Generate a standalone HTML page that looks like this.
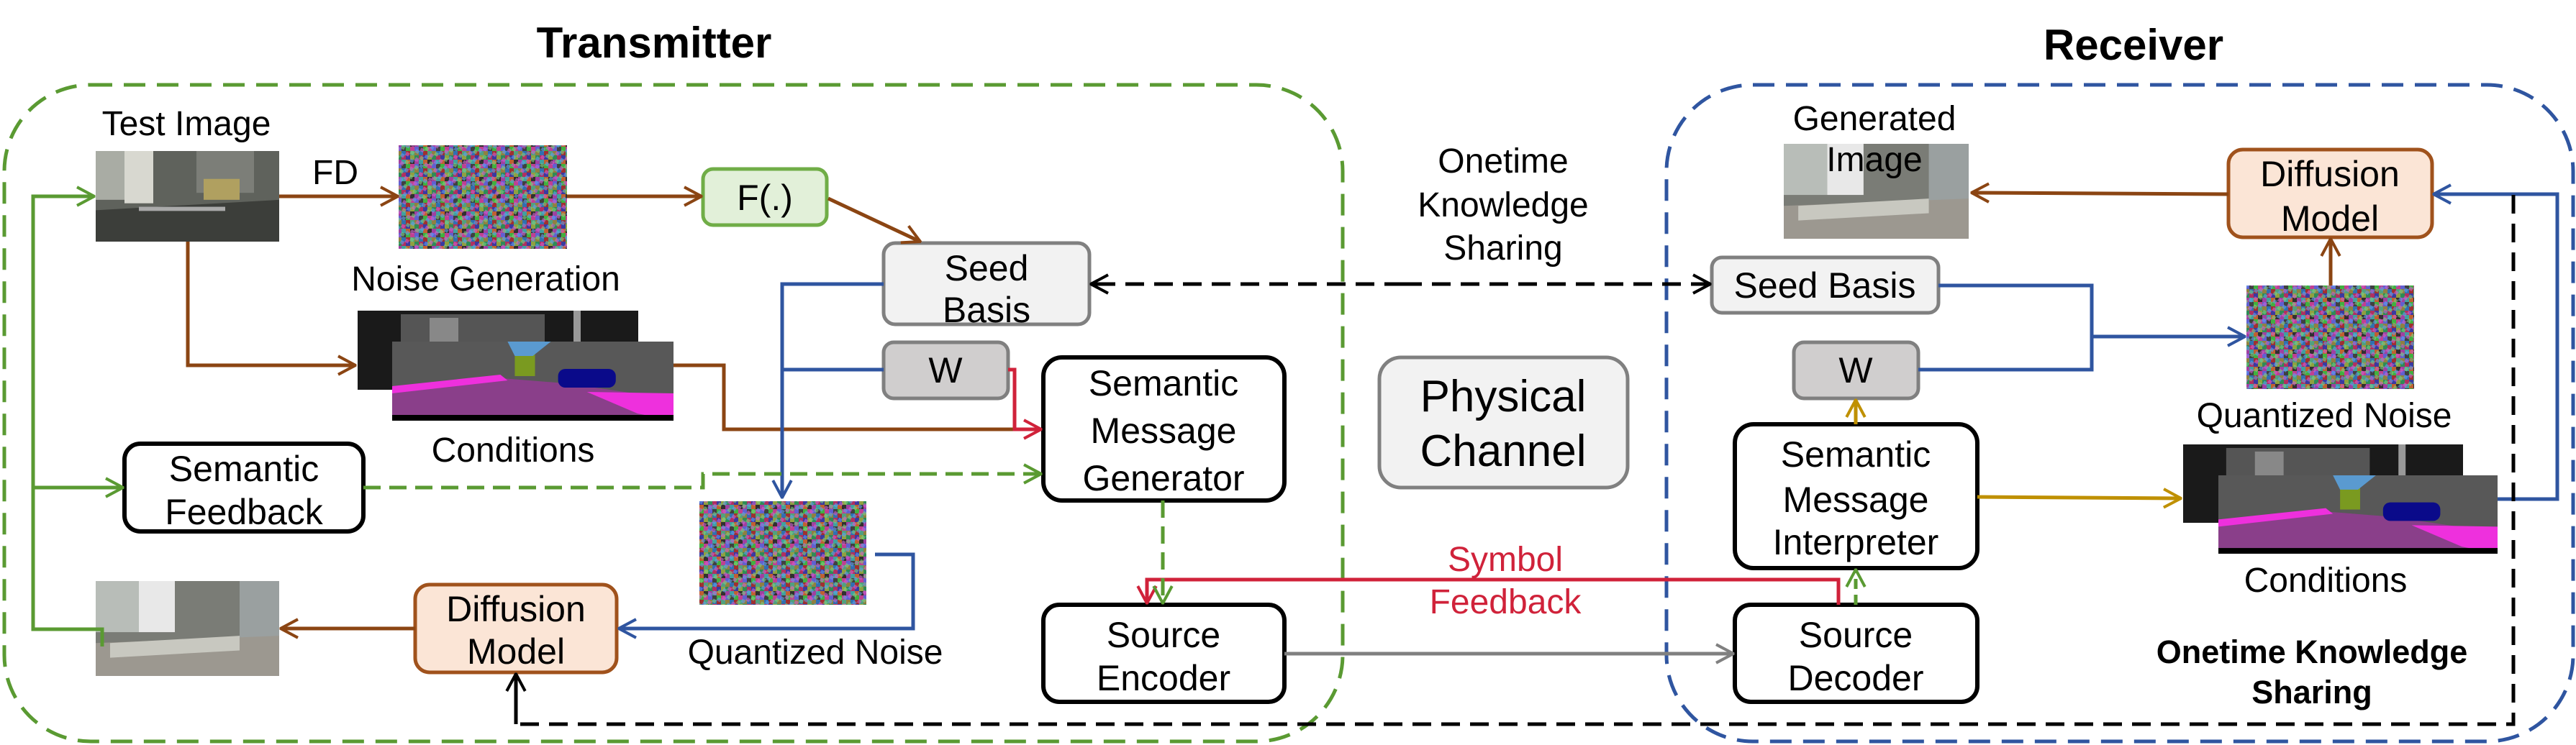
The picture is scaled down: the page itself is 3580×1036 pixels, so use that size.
<!DOCTYPE html>
<html><head><meta charset="utf-8"><style>
html,body{margin:0;padding:0;background:#fff;}
svg{display:block;}
text{font-family:"Liberation Sans",Arial,sans-serif;}
</style></head><body>
<svg width="3580" height="1036" viewBox="0 0 3580 1036" xmlns="http://www.w3.org/2000/svg">
<defs>
<marker id="aBr" viewBox="0 0 20 20" refX="19" refY="10" markerWidth="32" markerHeight="32" markerUnits="userSpaceOnUse" orient="auto"><path d="M4,2 L19,10 L4,18" fill="none" stroke="#8b4513" stroke-width="2.5"/></marker>
<marker id="aGr" viewBox="0 0 20 20" refX="19" refY="10" markerWidth="32" markerHeight="32" markerUnits="userSpaceOnUse" orient="auto"><path d="M4,2 L19,10 L4,18" fill="none" stroke="#5a9a32" stroke-width="2.5"/></marker>
<marker id="aBl" viewBox="0 0 20 20" refX="19" refY="10" markerWidth="32" markerHeight="32" markerUnits="userSpaceOnUse" orient="auto"><path d="M4,2 L19,10 L4,18" fill="none" stroke="#2f55a0" stroke-width="2.5"/></marker>
<marker id="aRd" viewBox="0 0 20 20" refX="19" refY="10" markerWidth="32" markerHeight="32" markerUnits="userSpaceOnUse" orient="auto"><path d="M4,2 L19,10 L4,18" fill="none" stroke="#d0223a" stroke-width="2.5"/></marker>
<marker id="aGo" viewBox="0 0 20 20" refX="19" refY="10" markerWidth="32" markerHeight="32" markerUnits="userSpaceOnUse" orient="auto"><path d="M4,2 L19,10 L4,18" fill="none" stroke="#bf9000" stroke-width="2.5"/></marker>
<marker id="aGy" viewBox="0 0 20 20" refX="19" refY="10" markerWidth="32" markerHeight="32" markerUnits="userSpaceOnUse" orient="auto"><path d="M4,2 L19,10 L4,18" fill="none" stroke="#808080" stroke-width="2.5"/></marker>
<marker id="aBk" viewBox="0 0 20 20" refX="19" refY="10" markerWidth="32" markerHeight="32" markerUnits="userSpaceOnUse" orient="auto"><path d="M4,2 L19,10 L4,18" fill="none" stroke="#000" stroke-width="2.5"/></marker>
<pattern id="noise" width="24" height="24" patternUnits="userSpaceOnUse">
<rect width="24" height="24" fill="#5a4a6a"/>
<rect x="0" y="0" width="6" height="6" fill="#2e8b57"/><rect x="6" y="0" width="6" height="6" fill="#b03060"/><rect x="12" y="0" width="6" height="6" fill="#3a3aa0"/><rect x="18" y="0" width="6" height="6" fill="#90a040"/>
<rect x="0" y="6" width="6" height="6" fill="#a040a0"/><rect x="6" y="6" width="6" height="6" fill="#40a0a0"/><rect x="12" y="6" width="6" height="6" fill="#c06030"/><rect x="18" y="6" width="6" height="6" fill="#303030"/>
<rect x="0" y="12" width="6" height="6" fill="#6060d0"/><rect x="6" y="12" width="6" height="6" fill="#404040"/><rect x="12" y="12" width="6" height="6" fill="#40b040"/><rect x="18" y="12" width="6" height="6" fill="#c04090"/>
<rect x="0" y="18" width="6" height="6" fill="#908040"/><rect x="6" y="18" width="6" height="6" fill="#3070b0"/><rect x="12" y="18" width="6" height="6" fill="#a03030"/><rect x="18" y="18" width="6" height="6" fill="#50a080"/>
</pattern>
<pattern id="noise2" width="15" height="15" patternUnits="userSpaceOnUse" patternTransform="rotate(30)">
<rect x="0" y="0" width="5" height="5" fill="#80d080"/><rect x="10" y="5" width="5" height="5" fill="#d060d0"/><rect x="5" y="10" width="5" height="5" fill="#60a0f0"/>
</pattern>
<symbol id="street" viewBox="0 0 255 130" preserveAspectRatio="none">
<rect width="255" height="130" fill="#5f625c"/>
<rect x="0" y="0" width="60" height="70" fill="#a9aca4"/>
<rect x="40" y="0" width="40" height="75" fill="#d8d8d0"/>
<rect x="140" y="0" width="80" height="60" fill="#7c7e78"/>
<rect x="150" y="40" width="50" height="30" fill="#b0a060"/>
<polygon points="0,85 255,70 255,130 0,130" fill="#3c3e3a"/>
<rect x="60" y="80" width="120" height="6" fill="#aaa"/>
</symbol>
<symbol id="gen" viewBox="0 0 255 130" preserveAspectRatio="none">
<rect width="255" height="130" fill="#7a7c76"/>
<rect x="0" y="0" width="60" height="70" fill="#b8bdb8"/>
<rect x="60" y="0" width="50" height="70" fill="#e8e8e8"/>
<rect x="200" y="0" width="55" height="90" fill="#9aa0a0"/>
<polygon points="0,85 255,75 255,130 0,130" fill="#9c9890"/>
<polygon points="20,85 200,75 200,95 20,105" fill="#c8c8c0"/>
</symbol>
<symbol id="cback" viewBox="0 0 390 110" preserveAspectRatio="none">
<rect width="390" height="110" fill="#1a1a1a"/>
<rect x="60" y="5" width="200" height="50" fill="#555"/>
<rect x="100" y="10" width="40" height="40" fill="#888"/>
<rect x="300" y="0" width="10" height="80" fill="#999"/>
</symbol>
<symbol id="cfront" viewBox="0 0 390 110" preserveAspectRatio="none">
<rect width="390" height="110" fill="#585858"/>
<polygon points="0,62 140,50 240,58 390,80 390,110 0,110" fill="#8a3f8a"/>
<polygon points="0,62 150,46 160,54 0,72" fill="#ee30dd"/>
<polygon points="270,70 390,72 390,110 340,100" fill="#ee30dd"/>
<rect x="230" y="38" width="80" height="26" rx="10" fill="#0a0a8a"/>
<rect x="170" y="8" width="28" height="40" fill="#7a9a20"/>
<polygon points="160,0 220,0 195,20 170,20" fill="#5a9ad0"/>
<rect x="0" y="102" width="390" height="8" fill="#000"/>
</symbol>
</defs>

<text x="909" y="80" font-size="60" font-weight="bold" text-anchor="middle">Transmitter</text>
<text x="2965" y="83" font-size="60" font-weight="bold" text-anchor="middle">Receiver</text>

<rect x="6" y="118" width="1860" height="913" rx="120" ry="120" fill="none" stroke="#5a9a32" stroke-width="5" stroke-dasharray="30,16"/>
<rect x="2316" y="118" width="1260" height="913" rx="120" ry="120" fill="none" stroke="#2f55a0" stroke-width="5" stroke-dasharray="30,16"/>

<use href="#street" x="133" y="210" width="255" height="126"/>
<use href="#gen" x="133" y="808" width="255" height="132"/>
<use href="#gen" x="2479" y="200" width="257" height="132"/>
<rect x="554" y="202" width="234" height="144" fill="url(#noise)"/>
<rect x="554" y="202" width="234" height="144" fill="url(#noise2)" opacity="0.6"/>
<rect x="972" y="697" width="232" height="144" fill="url(#noise)"/>
<rect x="972" y="697" width="232" height="144" fill="url(#noise2)" opacity="0.6"/>
<rect x="3122" y="397" width="233" height="144" fill="url(#noise)"/>
<rect x="3122" y="397" width="233" height="144" fill="url(#noise2)" opacity="0.6"/>
<use href="#cback" x="497" y="432" width="390" height="110"/>
<use href="#cfront" x="545" y="475" width="391" height="110"/>
<use href="#cback" x="3034" y="618" width="389" height="109"/>
<use href="#cfront" x="3083" y="661" width="388" height="109"/>

<g font-size="48" text-anchor="middle">
<text x="259" y="188">Test Image</text>
<text x="466" y="256">FD</text>
<text x="675" y="404">Noise Generation</text>
<text x="713" y="642">Conditions</text>
<text x="1133" y="923">Quantized Noise</text>
<text x="2089" y="240">Onetime</text>
<text x="2089" y="301">Knowledge</text>
<text x="2089" y="361">Sharing</text>
<text x="2605" y="181">Generated</text>
<text x="2605" y="238">Image</text>
<text x="3230" y="594">Quantized Noise</text>
<text x="3232" y="823">Conditions</text>
<text x="2092" y="794" fill="#d0223a">Symbol</text>
<text x="2092" y="853" fill="#d0223a">Feedback</text>
</g>
<g font-size="45" font-weight="bold" text-anchor="middle">
<text x="3213" y="922">Onetime Knowledge</text>
<text x="3213" y="978">Sharing</text>
</g>

<rect x="977" y="235" width="172" height="78" rx="14" fill="#e2f0d9" stroke="#70ad47" stroke-width="5"/>
<rect x="1228" y="338" width="286" height="113" rx="16" fill="#f2f2f2" stroke="#808080" stroke-width="5"/>
<rect x="1228" y="476" width="173" height="78" rx="14" fill="#d0cece" stroke="#808080" stroke-width="5"/>
<rect x="1450" y="497" width="335" height="199" rx="26" fill="#fff" stroke="#000" stroke-width="6"/>
<rect x="173" y="617" width="332" height="122" rx="22" fill="#fff" stroke="#000" stroke-width="6"/>
<rect x="577" y="813" width="280" height="122" rx="20" fill="#fbe5d6" stroke="#a0521c" stroke-width="5"/>
<rect x="1450" y="841" width="335" height="135" rx="22" fill="#fff" stroke="#000" stroke-width="6"/>
<rect x="1917" y="497" width="345" height="181" rx="30" fill="#f2f2f2" stroke="#808080" stroke-width="5"/>
<rect x="3097" y="208" width="283" height="122" rx="20" fill="#fbe5d6" stroke="#a0521c" stroke-width="5"/>
<rect x="2379" y="358" width="315" height="77" rx="14" fill="#f2f2f2" stroke="#808080" stroke-width="5"/>
<rect x="2493" y="476" width="173" height="78" rx="14" fill="#d0cece" stroke="#808080" stroke-width="5"/>
<rect x="2411" y="590" width="337" height="200" rx="26" fill="#fff" stroke="#000" stroke-width="6"/>
<rect x="2411" y="841" width="337" height="135" rx="22" fill="#fff" stroke="#000" stroke-width="6"/>

<g font-size="50" text-anchor="middle">
<text x="1063" y="292">F(.)</text>
<text x="1371" y="390">Seed</text>
<text x="1371" y="448">Basis</text>
<text x="1314" y="532">W</text>
<text x="1617" y="550">Semantic</text>
<text x="1617" y="616">Message</text>
<text x="1617" y="682">Generator</text>
<text x="339" y="669">Semantic</text>
<text x="339" y="729">Feedback</text>
<text x="717" y="864">Diffusion</text>
<text x="717" y="923">Model</text>
<text x="1617" y="900">Source</text>
<text x="1617" y="960">Encoder</text>
<text x="3238" y="259">Diffusion</text>
<text x="3238" y="321">Model</text>
<text x="2536" y="414">Seed Basis</text>
<text x="2579" y="532">W</text>
<text x="2579" y="649">Semantic</text>
<text x="2579" y="712">Message</text>
<text x="2579" y="771">Interpreter</text>
<text x="2579" y="900">Source</text>
<text x="2579" y="960">Decoder</text>
<text x="2089" y="572" font-size="62">Physical</text>
<text x="2089" y="648" font-size="62">Channel</text>
</g>

<g fill="none" stroke-width="5">
<line x1="388" y1="273" x2="553" y2="273" stroke="#8b4513" marker-end="url(#aBr)"/>
<line x1="788" y1="273" x2="975" y2="273" stroke="#8b4513" marker-end="url(#aBr)"/>
<line x1="1151" y1="276" x2="1279" y2="336" stroke="#8b4513" marker-end="url(#aBr)"/>
<polyline points="261,336 261,508 494,508" stroke="#8b4513" marker-end="url(#aBr)"/>
<polyline points="936,508 1006,508 1006,597 1420,597" stroke="#8b4513"/>
<line x1="577" y1="874" x2="390" y2="874" stroke="#8b4513" marker-end="url(#aBr)"/>
<line x1="3097" y1="270" x2="2740" y2="268" stroke="#8b4513" marker-end="url(#aBr)"/>
<line x1="3239" y1="397" x2="3239" y2="332" stroke="#8b4513" marker-end="url(#aBr)"/>
<polyline points="1401,514 1410,514 1410,597 1447,597" stroke="#d0223a" marker-end="url(#aRd)"/>
<polyline points="2555,841 2555,806 1594,806 1594,839" stroke="#d0223a" marker-end="url(#aRd)"/>
<polyline points="1228,395 1087,395 1087,692" stroke="#2f55a0" marker-end="url(#aBl)"/>
<line x1="1228" y1="514" x2="1087" y2="514" stroke="#2f55a0"/>
<polyline points="1216,771 1269,771 1269,874 860,874" stroke="#2f55a0" marker-end="url(#aBl)"/>
<polyline points="2694,397 2907,397 2907,514 2666,514" stroke="#2f55a0"/>
<line x1="2907" y1="468" x2="3120" y2="468" stroke="#2f55a0" marker-end="url(#aBl)"/>
<polyline points="3471,694 3554,694 3554,270 3382,270" stroke="#2f55a0" marker-end="url(#aBl)"/>
<polyline points="142,899 142,875 46,875 46,273 131,273" stroke="#5a9a32" marker-end="url(#aGr)"/>
<line x1="46" y1="678" x2="171" y2="678" stroke="#5a9a32" marker-end="url(#aGr)"/>
<polyline points="505,678 977,678 977,659 1447,659" stroke="#5a9a32" stroke-dasharray="24,12" marker-end="url(#aGr)"/>
<line x1="1616" y1="696" x2="1616" y2="839" stroke="#5a9a32" stroke-dasharray="24,12" marker-end="url(#aGr)"/>
<line x1="2579" y1="841" x2="2579" y2="792" stroke="#5a9a32" stroke-dasharray="14,8" marker-end="url(#aGr)"/>
<line x1="2579" y1="590" x2="2579" y2="556" stroke="#bf9000" marker-end="url(#aGo)"/>
<line x1="2748" y1="691" x2="3031" y2="693" stroke="#bf9000" marker-end="url(#aGo)"/>
<line x1="1785" y1="909" x2="2409" y2="909" stroke="#808080" marker-end="url(#aGy)"/>
<line x1="1950" y1="395" x2="1516" y2="395" stroke="#000" stroke-dasharray="26,14"/>
<line x1="1530" y1="395" x2="1516" y2="395" stroke="#000" marker-end="url(#aBk)"/>
<line x1="1950" y1="395" x2="2377" y2="395" stroke="#000" stroke-dasharray="26,14"/>
<line x1="2360" y1="395" x2="2377" y2="395" stroke="#000" marker-end="url(#aBk)"/>
<polyline points="3493,271 3493,1007 717,1007" stroke="#000" stroke-dasharray="26,14"/>
<line x1="717" y1="1007" x2="717" y2="937" stroke="#000" marker-end="url(#aBk)"/>
</g>
</svg>
</body></html>
